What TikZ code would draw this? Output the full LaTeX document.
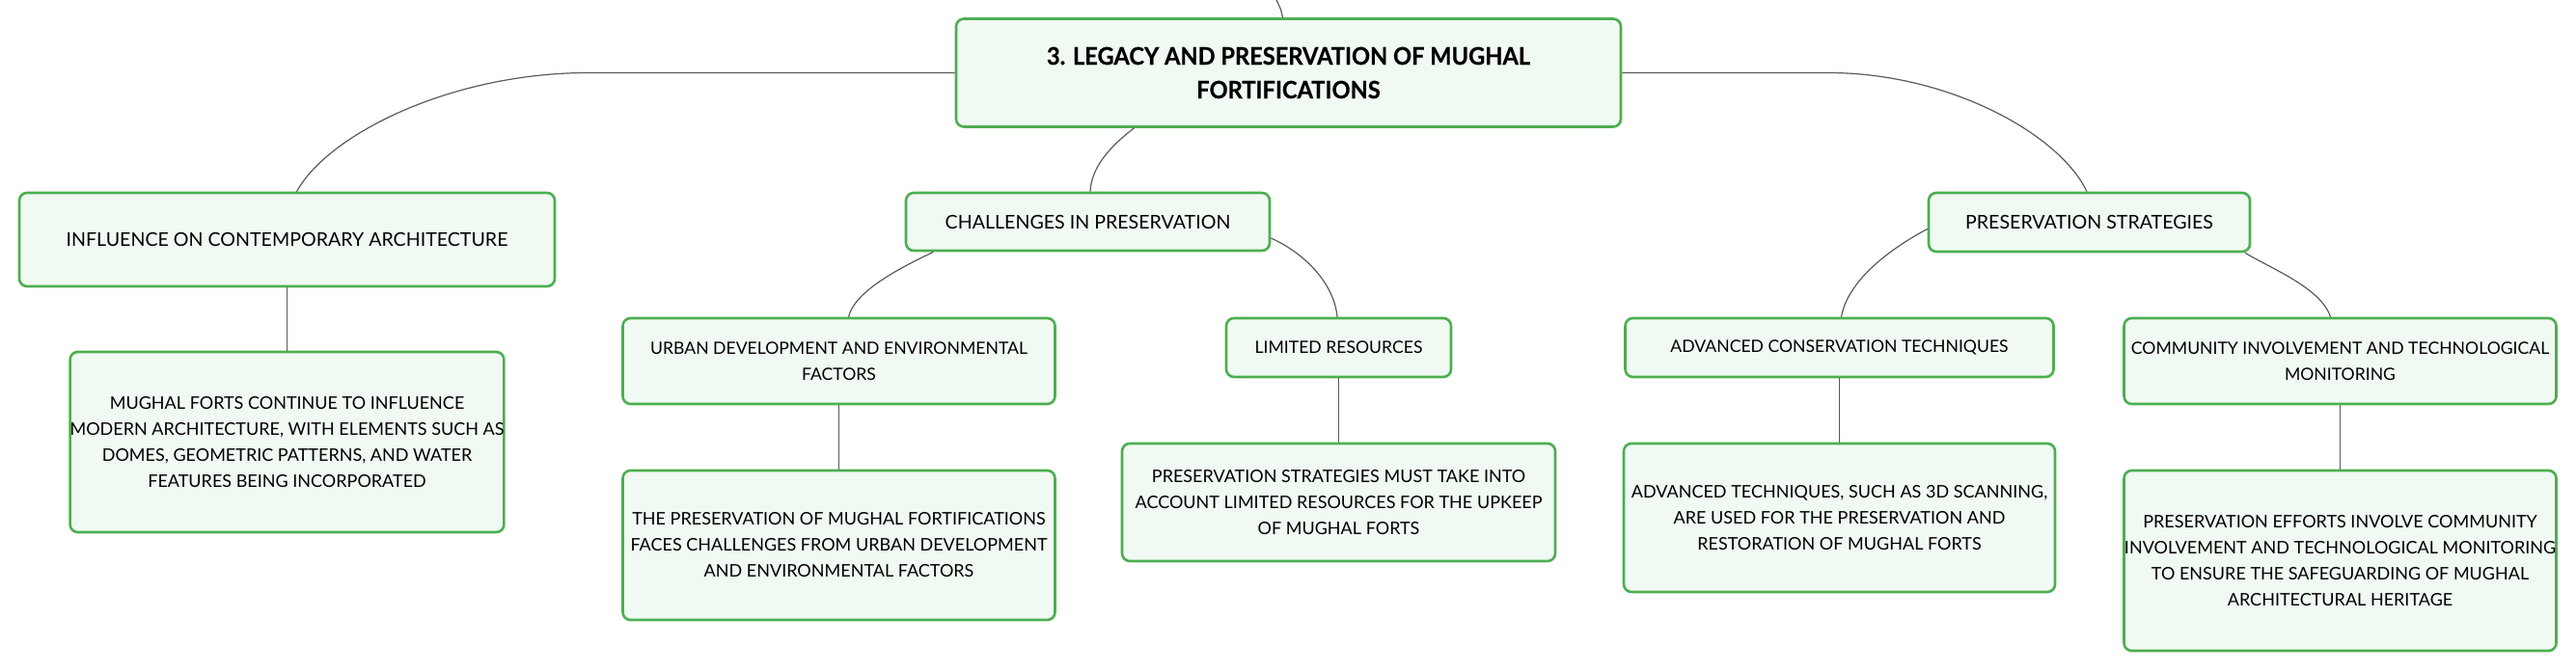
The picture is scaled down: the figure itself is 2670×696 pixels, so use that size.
\documentclass[tikz,border=0pt]{standalone}
\usepackage{fontspec}
\setmainfont{Lato}
\newfontfamily\rootfont{Lato}[FakeStretch=0.945, FakeBold=0.6]
\usetikzlibrary{calc}
\definecolor{boxborder}{HTML}{4CAF50}
\definecolor{boxfill}{HTML}{F1F9F3}
\definecolor{linkcol}{HTML}{5A5A5A}
\tikzset{
  mmbox/.style={draw=boxborder, fill=boxfill, line width=2.6pt, rounded corners=8pt,
    rectangle, inner sep=0pt, align=center, font=\fontsize{18}{27}\selectfont, text=black},
  topicbox/.style={mmbox, font=\fontsize{19.6}{28}\selectfont},
  subbox/.style={mmbox, font=\fontsize{17.6}{27}\selectfont},
  rootbox/.style={mmbox, font=\fontsize{25}{35}\rootfont\bfseries},
  link/.style={draw=linkcol, line width=1.2pt}
}
\begin{document}
\begin{tikzpicture}[x=1pt, y=-1pt]
\useasboundingbox (0,0) rectangle (2670,696);
% nodes
\node[rootbox, minimum width=689, minimum height=112] (root) at (1335.5,75.5)
  {3. LEGACY AND PRESERVATION OF MUGHAL\\FORTIFICATIONS};
\node[topicbox, minimum width=555, minimum height=97] (infl) at (297.5,248.5)
  {INFLUENCE ON CONTEMPORARY ARCHITECTURE};
\node[mmbox, minimum width=449, minimum height=187] (inflc) at (297.5,458.5)
  {MUGHAL FORTS CONTINUE TO INFLUENCE\\MODERN ARCHITECTURE, WITH ELEMENTS SUCH AS\\DOMES, GEOMETRIC PATTERNS, AND WATER\\FEATURES BEING INCORPORATED};
\node[topicbox, minimum width=377, minimum height=60] (chal) at (1127.5,230)
  {CHALLENGES IN PRESERVATION};
\node[subbox, minimum width=448, minimum height=89] (urban) at (869.5,374.5)
  {URBAN DEVELOPMENT AND ENVIRONMENTAL\\FACTORS};
\node[mmbox, minimum width=448, minimum height=155] (urbanc) at (869.5,565.5)
  {THE PRESERVATION OF MUGHAL FORTIFICATIONS\\FACES CHALLENGES FROM URBAN DEVELOPMENT\\AND ENVIRONMENTAL FACTORS};
\node[subbox, minimum width=233, minimum height=61] (lim) at (1387.5,360.5)
  {LIMITED RESOURCES};
\node[mmbox, minimum width=449, minimum height=122] (limc) at (1387.5,521)
  {PRESERVATION STRATEGIES MUST TAKE INTO\\ACCOUNT LIMITED RESOURCES FOR THE UPKEEP\\OF MUGHAL FORTS};
\node[topicbox, minimum width=333, minimum height=61] (strat) at (2165.5,230.5)
  {PRESERVATION STRATEGIES};
\node[subbox, minimum width=444, minimum height=61] (adv) at (1906.5,360.5)
  {ADVANCED CONSERVATION TECHNIQUES};
\node[mmbox, minimum width=447, minimum height=154] (advc) at (1906.5,537)
  {ADVANCED TECHNIQUES, SUCH AS 3D SCANNING,\\ARE USED FOR THE PRESERVATION AND\\RESTORATION OF MUGHAL FORTS};
\node[subbox, minimum width=448, minimum height=89] (comm) at (2425.5,374.5)
  {COMMUNITY INVOLVEMENT AND TECHNOLOGICAL\\MONITORING};
\node[mmbox, minimum width=448, minimum height=187] (commc) at (2425.5,581.5)
  {PRESERVATION EFFORTS INVOLVE COMMUNITY\\INVOLVEMENT AND TECHNOLOGICAL MONITORING\\TO ENSURE THE SAFEGUARDING OF MUGHAL\\ARCHITECTURAL HERITAGE};
\coordinate (up) at (1323,0);
% connectors
\draw[link] ($(root.north)+(-6,0)$) .. controls ($(root.north)+(-8,-9)$) .. (up);
\draw[link] (root.west) -- ($(root.west)+(-380,0)$)
  .. controls ($(root.west)+(-521,0)$) and ($(infl.north)+(43,-60)$) .. ($(infl.north)+(10,0)$);
\draw[link] (root.east) -- ($(root.east)+(214,0)$)
  .. controls ($(root.east)+(338,0)$) and ($(strat.north)+(-31,-60)$) .. ($(strat.north)+(-2.5,0)$);
\draw[link] ($(root.south)+(-160,0)$)
  .. controls ($(root.south)+(-185,19)$) and ($(chal.north)+(3.5,-25)$) .. ($(chal.north)+(2.5,0)$);
\draw[link] ($(chal.south)+(-160,0)$)
  .. controls ($(chal.south)+(-202,20)$) and ($(urban.north)+(16,-25)$) .. ($(urban.north)+(10,0)$);
\draw[link] ($(chal.east)+(0,17)$)
  .. controls ($(chal.east)+(34,32)$) and ($(lim.north)+(-4.5,-35)$) .. ($(lim.north)+(-1.5,0)$);
\draw[link] ($(strat.west)+(0,7)$)
  .. controls ($(strat.west)+(-34,25)$) and ($(adv.north)+(9,-40)$) .. ($(adv.north)+(2,0)$);
\draw[link] ($(strat.south)+(161.5,0)$)
  .. controls ($(strat.south)+(190,17)$) and ($(comm.north)+(-20,-30)$) .. ($(comm.north)+(-10,0)$);
\draw[link] (infl.south) -- (inflc.north);
\draw[link] (urban.south) -- (urbanc.north);
\draw[link] (lim.south) -- (limc.north);
\draw[link] (adv.south) -- (advc.north);
\draw[link] (comm.south) -- (commc.north);
\end{tikzpicture}
\end{document}
